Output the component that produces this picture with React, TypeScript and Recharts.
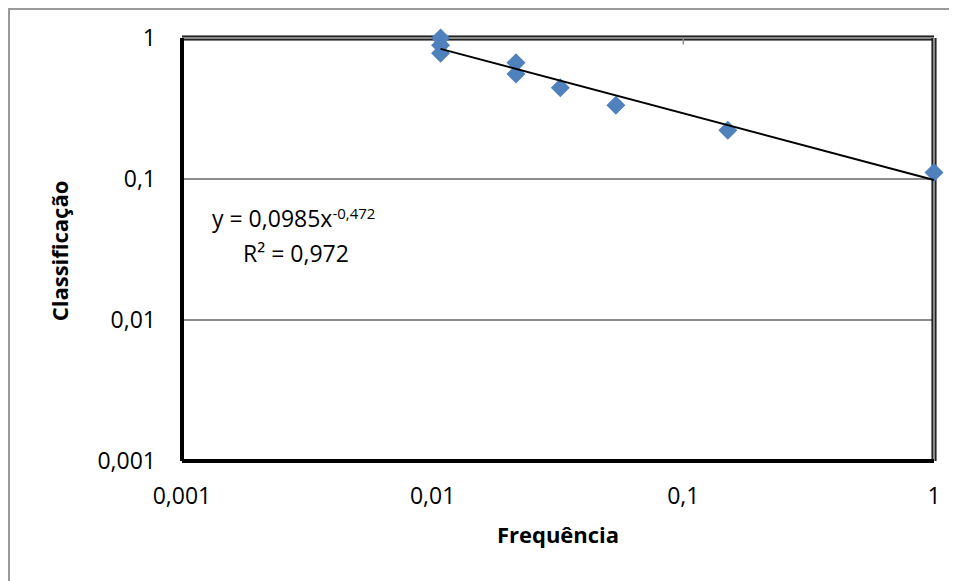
import React from 'react';
import { ScatterChart, Scatter, XAxis, YAxis, CartesianGrid, ReferenceLine } from 'recharts';

// Frequência (x) and Classificação (y)
const frequencia = [0.01075, 0.01075, 0.01075, 0.0215, 0.0215, 0.0323, 0.0538, 0.1505, 1];
const classificacao = [1, 0.889, 0.778, 0.667, 0.556, 0.444, 0.333, 0.222, 0.111];

// Power trendline endpoints (y = 0,0985x^-0,472)
const trendX = [0.01075, 1];
const trendY = [0.837, 0.0985];

const xTicks = [0.001, 0.01, 0.1, 1];
const yTicks = [0.001, 0.01, 0.1, 1];

const points = frequencia.map((x, i) => ({ x, y: classificacao[i] }));
const trend = trendX.map((x, i) => ({ x, y: trendY[i] }));

const FONT = '"Open Sans", "DejaVu Sans", sans-serif';
const fmt = (v: number) => String(v).replace('.', ',');

const XTick = (props: any) => {
  const { x, y, payload } = props;
  return (
    <text x={x} y={y + 42.5} textAnchor="middle" fontFamily={FONT} fontSize={23} fill="#000">
      {fmt(payload.value)}
    </text>
  );
};

const YTick = (props: any) => {
  const { x, y, payload } = props;
  return (
    <text x={x - 26} y={y + 8} textAnchor="end" fontFamily={FONT} fontSize={23} fill="#000">
      {fmt(payload.value)}
    </text>
  );
};

const Diamond = (props: any) => {
  const { cx, cy } = props;
  if (cx == null || cy == null) return <g />;
  const r = 9.5;
  return (
    <polygon
      points={`${cx},${cy - r} ${cx + r},${cy} ${cx},${cy + r} ${cx - r},${cy}`}
      fill="#4F81BD"
    />
  );
};

const NoShape = () => <g />;

export default function App() {
  return (
    <div style={{ position: 'relative', width: 949, height: 573 }}>
      <div
        style={{
          position: 'absolute',
          left: 0,
          top: 0,
          width: 960,
          height: 600,
          borderLeft: '2px solid #9a9a9a',
          borderTop: '2px solid #9a9a9a',
          boxSizing: 'border-box',
        }}
      />
      <div style={{ position: 'absolute', left: -8, top: -8, width: 957, height: 581 }}>
        <ScatterChart width={957} height={581} margin={{ top: 38, right: 23, bottom: 0, left: 0 }}>
          <CartesianGrid vertical={false} stroke="#8c8c8c" strokeWidth={2} />
          <XAxis
            type="number"
            dataKey="x"
            scale="log"
            domain={[0.001, 1]}
            ticks={xTicks}
            interval={0}
            height={120}
            axisLine={{ stroke: '#000', strokeWidth: 4 }}
            tickLine={false}
            tickSize={0}
            tickMargin={0}
            tick={<XTick />}
          />
          <YAxis
            type="number"
            dataKey="y"
            scale="log"
            domain={[0.001, 1]}
            ticks={yTicks}
            interval={0}
            width={182}
            axisLine={{ stroke: '#000', strokeWidth: 4 }}
            tickLine={false}
            tickSize={0}
            tickMargin={0}
            tick={<YTick />}
          />
          <ReferenceLine y={1} stroke="#000" strokeWidth={5} />
          <ReferenceLine y={1} stroke="#8a8a8a" strokeWidth={2.5} />
          <ReferenceLine x={1} stroke="#000" strokeWidth={5} />
          <ReferenceLine x={1} stroke="#8a8a8a" strokeWidth={2.5} />
          <ReferenceLine
            segment={[
              { x: 0.1, y: 1 },
              { x: 0.1, y: 0.9 },
            ]}
            stroke="#8a8a8a"
            strokeWidth={1.5}
          />
          <Scatter data={points} shape={<Diamond />} isAnimationActive={false} />
          <Scatter
            data={trend}
            line={{ stroke: '#000', strokeWidth: 2 }}
            shape={<NoShape />}
            isAnimationActive={false}
          />
        </ScatterChart>
        <svg
          width={957}
          height={581}
          style={{ position: 'absolute', left: 0, top: 0, pointerEvents: 'none' }}
        >
          <text x={558} y={543} textAnchor="middle" fontFamily={FONT} fontSize={22} fontWeight="bold" fill="#000">
            Frequência
          </text>
          <text
            x={68}
            y={251}
            transform="rotate(-90 68 251)"
            textAnchor="middle"
            fontFamily={FONT}
            fontSize={22}
            fontWeight="bold"
            fill="#000"
          >
            Classificação
          </text>
          <text x={212} y={227} fontFamily={FONT} fontSize={23} fill="#000">
            y = 0,0985x
            <tspan fontSize={15} dy={-8}>-0,472</tspan>
          </text>
          <text x={243} y={262} fontFamily={FONT} fontSize={23} fill="#000">
            R² = 0,972
          </text>
        </svg>
      </div>
    </div>
  );
}
